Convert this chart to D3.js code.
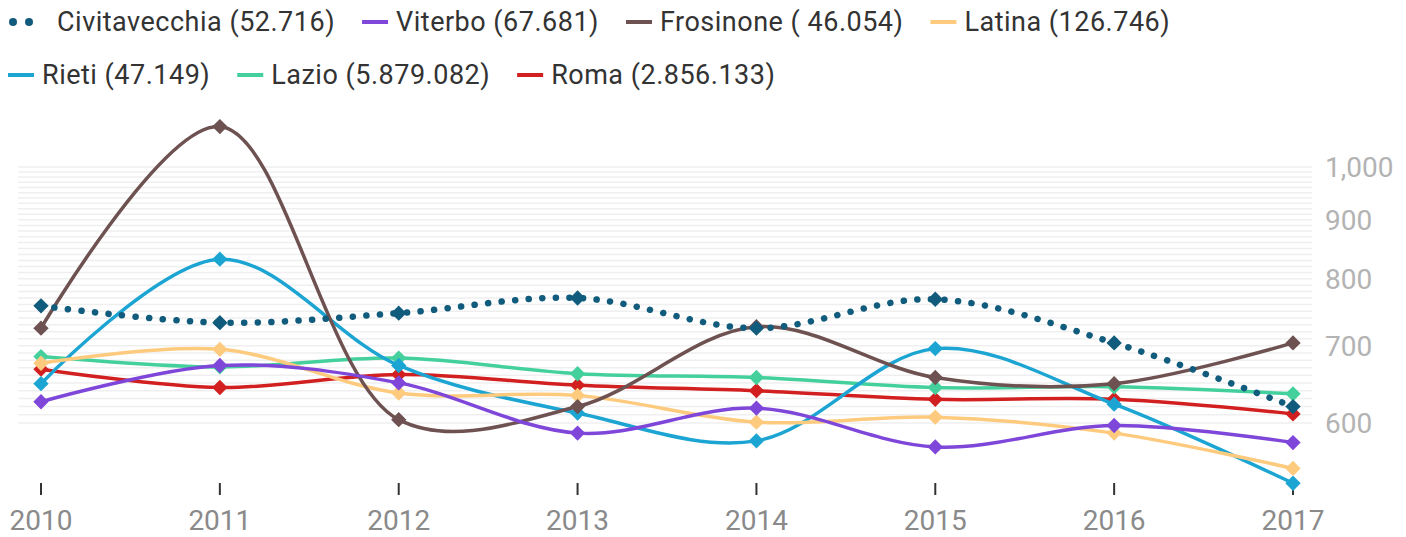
<!DOCTYPE html>
<html>
<head>
<meta charset="utf-8">
<script src="https://cdn.jsdelivr.net/npm/d3@7"></script>
<style>
  body { margin: 0; background: #fff; }
  svg { display: block; font-family: Roboto, "Noto Sans", sans-serif; }
</style>
</head>
<body>
<div id="chart"></div>
<script>
// data
const years = [2010, 2011, 2012, 2013, 2014, 2015, 2016, 2017];
const seriesNames = ["Civitavecchia (52.716)", "Viterbo (67.681)", "Frosinone ( 46.054)", "Latina (126.746)",
  "Rieti (47.149)", "Lazio (5.879.082)", "Roma (2.856.133)"];
const civitavecchia = [758, 733, 747, 770, 725, 768, 704, 620];
const viterbo = [626, 673, 650, 588, 618, 572, 597, 577];
const frosinone = [725, 1084, 604, 620, 727, 657, 649, 704];
const latina = [676, 695, 637, 634, 601, 607, 588, 548];
const rieti = [649, 832, 673, 612, 579, 696, 623, 532];
const lazio = [685, 671, 683, 662, 657, 644, 645, 636];
const roma = [668, 644, 661, 647, 640, 629, 629, 611];
const yTicks = [600, 700, 800, 900, 1000];

const colors = ["#115c7c", "#7f47d9", "#6e5151", "#fdca7e", "#1ca5d3", "#44d09d", "#d21f1f"];
const values = [civitavecchia, viterbo, frosinone, latina, rieti, lazio, roma];

const width = 1406, height = 537;
const svg = d3.select("#chart").append("svg")
  .attr("width", width)
  .attr("height", height);

const x = d3.scaleLinear().domain([2010, 2017]).range([41, 1293]);
const y = d3.scaleLog().domain([600, 1000]).range([423, 167]);

// light grid, every 10 between 600 and 1000
svg.append("g").selectAll("line")
  .data(d3.range(600, 1001, 10))
  .join("line")
  .attr("x1", 18).attr("x2", 1312)
  .attr("y1", d => y(d)).attr("y2", d => y(d))
  .attr("stroke", "#efefef")
  .attr("stroke-width", 1.5);

// y labels on the right
svg.append("g").selectAll("text")
  .data(yTicks)
  .join("text")
  .attr("x", 1325)
  .attr("y", d => y(d))
  .attr("dy", "0.36em")
  .attr("fill", "#b3b3b3")
  .style("font-size", "28px")
  .text(d => d3.format(",")(d));

// x axis: small ticks + year labels
const xAxis = svg.append("g");
xAxis.selectAll("line")
  .data(years)
  .join("line")
  .attr("x1", d => x(d)).attr("x2", d => x(d))
  .attr("y1", 483).attr("y2", 495)
  .attr("stroke", "#333")
  .attr("stroke-width", 2);
xAxis.selectAll("text")
  .data(years)
  .join("text")
  .attr("x", d => x(d))
  .attr("y", 530)
  .attr("text-anchor", "middle")
  .attr("fill", "#8a8a8a")
  .style("font-size", "28px")
  .text(d => d);

const line = d3.line()
  .x((d, i) => x(years[i]))
  .y(d => y(d))
  .curve(d3.curveCatmullRom);

const diamond = d3.symbol().type(d3.symbolDiamond2).size(150);

// draw from last to first so Civitavecchia ends on top
for (let s = values.length - 1; s >= 0; s--) {
  const g = svg.append("g");
  const path = g.append("path")
    .attr("d", line(values[s]))
    .attr("fill", "none")
    .attr("stroke", colors[s]);
  if (s == 0) {
    path.attr("stroke-width", 6.5)
      .attr("stroke-linecap", "round")
      .attr("stroke-dasharray", "0.1,13.5");
  } else {
    path.attr("stroke-width", 3.5);
  }
  g.selectAll("path.pt")
    .data(values[s])
    .join("path")
    .attr("class", "pt")
    .attr("d", diamond)
    .attr("transform", (d, i) => "translate(" + x(years[i]) + "," + y(d) + ")")
    .attr("fill", colors[s]);
}

// legend, flowing left to right
const legend = svg.append("g");
let lx = 8, ly = 22;
const rowH = 53, maxW = 1250;
seriesNames.forEach((name, i) => {
  const item = legend.append("g");
  const tx = i == 0 ? 49 : 34;
  if (i == 0) {
    item.append("circle").attr("cx", 5).attr("cy", 0).attr("r", 4).attr("fill", colors[i]);
    item.append("circle").attr("cx", 21).attr("cy", 0).attr("r", 4).attr("fill", colors[i]);
  } else {
    item.append("line")
      .attr("x1", 0).attr("x2", 26)
      .attr("y1", 0).attr("y2", 0)
      .attr("stroke", colors[i])
      .attr("stroke-width", 4);
  }
  const t = item.append("text")
    .attr("x", tx)
    .attr("dy", "0.35em")
    .attr("fill", "#333")
    .style("font-size", "27px")
    .style("letter-spacing", "0.5px")
    .text(name);
  const w = tx + t.node().getComputedTextLength();
  if (lx + w > maxW) { lx = 8; ly += rowH; }
  item.attr("transform", "translate(" + lx + "," + ly + ")");
  lx += w + 27;
});
</script>
</body>
</html>
